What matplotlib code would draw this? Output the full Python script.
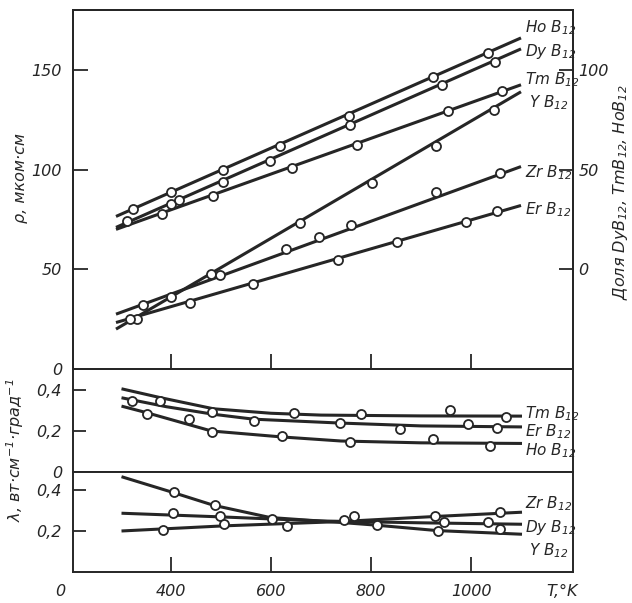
import numpy as np
import matplotlib
matplotlib.use('Agg')
import matplotlib.pyplot as plt

plt.rcParams['font.family'] = ['DejaVu Sans']
plt.rcParams['font.style'] = 'italic'
plt.rcParams['mathtext.default'] = 'it'

# удельное сопротивление, мком*см
T_rho_line = [290, 1100]
ho_rho_line = [76.5, 166]
dy_rho_line = [71, 160.5]
tm_rho_line = [70, 142.5]
y_rho_line = [20, 139]
zr_rho_line = [27.5, 101.5]
er_rho_line = [23.3, 82]

ho_rho_T = [324, 400, 504, 618, 756, 924, 1034]
ho_rho = [80, 88.5, 100, 112, 127, 146.5, 158.5]
dy_rho_T = [312, 400, 416, 504, 598, 758, 942, 1048]
dy_rho = [74, 82.5, 84.5, 94, 104.5, 122.5, 142.5, 154]
tm_rho_T = [382, 484, 642, 772, 954, 1062]
tm_rho = [77.5, 86.5, 101, 112.5, 129.5, 139.5]
y_rho_T = [331, 400, 480, 658, 802, 930, 1046]
y_rho = [25, 36, 47.5, 73, 93.5, 112, 130]
zr_rho_T = [343, 498, 630, 696, 760, 930, 1058]
zr_rho = [32, 47, 60, 66, 72, 88.5, 98.5]
er_rho_T = [317, 437, 563, 734, 852, 990, 1052]
er_rho = [25.3, 33, 42.5, 54.5, 63.5, 73.5, 79]

# теплопроводность, TmB12 / ErB12 / HoB12
tm_lam_line_T = [301, 378, 485, 600, 700, 900, 1102]
tm_lam_line = [0.408, 0.365, 0.310, 0.288, 0.279, 0.275, 0.274]
er_lam_line_T = [301, 391, 485, 565, 738, 900, 1102]
er_lam_line = [0.364, 0.320, 0.283, 0.259, 0.240, 0.226, 0.221]
ho_lam_line_T = [301, 351, 481, 621, 740, 900, 1102]
ho_lam_line = [0.323, 0.291, 0.201, 0.172, 0.152, 0.143, 0.140]

tm_lam_T = [377, 481, 645, 779, 957, 1070]
tm_lam = [0.348, 0.294, 0.291, 0.283, 0.302, 0.272]
er_lam_T = [321, 435, 565, 738, 858, 993, 1052]
er_lam = [0.348, 0.259, 0.250, 0.242, 0.213, 0.233, 0.216]
ho_lam_T = [351, 481, 621, 758, 923, 1037]
ho_lam = [0.283, 0.197, 0.177, 0.145, 0.161, 0.128]

# теплопроводность, ZrB12 / DyB12 / YB12
yb_lam_line_T = [301, 401, 485, 598, 738, 808, 932, 1102]
yb_lam_line = [0.467, 0.392, 0.327, 0.267, 0.243, 0.230, 0.203, 0.185]
dyb_lam_line_T = [301, 500, 700, 900, 1102]
dyb_lam_line = [0.288, 0.270, 0.250, 0.241, 0.234]
zrb_lam_line_T = [301, 505, 738, 928, 1102]
zrb_lam_line = [0.201, 0.226, 0.247, 0.272, 0.293]

yb_lam_T = [405, 487, 601, 812, 933, 1057]
yb_lam = [0.392, 0.327, 0.262, 0.231, 0.201, 0.213]
dyb_lam_T = [403, 498, 746, 945, 1033]
dyb_lam = [0.288, 0.272, 0.255, 0.245, 0.245]
zrb_lam_T = [383, 505, 631, 765, 928, 1058]
zrb_lam = [0.206, 0.234, 0.226, 0.272, 0.275, 0.296]

ink = '#262626'

fig = plt.figure(figsize=(6.32, 6.03), dpi=100)
L, W = 73 / 632, 500 / 632
ax1 = fig.add_axes([L, 1 - 369 / 603, W, 359 / 603])
ax2 = fig.add_axes([L, 1 - 472 / 603, W, 103 / 603])
ax3 = fig.add_axes([L, 1 - 572 / 603, W, 100 / 603])


def draw(ax, tl, yl, tp, yp):
    ax.plot(tl, yl, color=ink, lw=2.2, solid_capstyle='butt', zorder=2)
    ax.plot(tp, yp, 'o', ms=6.5, mfc='white', mec=ink, mew=1.3, zorder=3)


def name(ax, x, y, s):
    ax.text(x, y, s, ha='left', va='center', fontsize=11, color=ink, clip_on=False)


draw(ax1, T_rho_line, ho_rho_line, ho_rho_T, ho_rho)
draw(ax1, T_rho_line, dy_rho_line, dy_rho_T, dy_rho)
draw(ax1, T_rho_line, tm_rho_line, tm_rho_T, tm_rho)
draw(ax1, T_rho_line, y_rho_line, y_rho_T, y_rho)
draw(ax1, T_rho_line, zr_rho_line, zr_rho_T, zr_rho)
draw(ax1, T_rho_line, er_rho_line, er_rho_T, er_rho)
name(ax1, 1108, 171, 'Ho B$_{12}$')
name(ax1, 1108, 159, 'Dy B$_{12}$')
name(ax1, 1108, 145, 'Tm B$_{12}$')
name(ax1, 1116, 133.5, 'Y B$_{12}$')
name(ax1, 1108, 98.5, 'Zr B$_{12}$')
name(ax1, 1108, 80, 'Er B$_{12}$')

draw(ax2, tm_lam_line_T, tm_lam_line, tm_lam_T, tm_lam)
draw(ax2, er_lam_line_T, er_lam_line, er_lam_T, er_lam)
draw(ax2, ho_lam_line_T, ho_lam_line, ho_lam_T, ho_lam)
name(ax2, 1108, 0.285, 'Tm B$_{12}$')
name(ax2, 1108, 0.196, 'Er B$_{12}$')
name(ax2, 1108, 0.104, 'Ho B$_{12}$')

draw(ax3, yb_lam_line_T, yb_lam_line, yb_lam_T, yb_lam)
draw(ax3, dyb_lam_line_T, dyb_lam_line, dyb_lam_T, dyb_lam)
draw(ax3, zrb_lam_line_T, zrb_lam_line, zrb_lam_T, zrb_lam)
name(ax3, 1108, 0.333, 'Zr B$_{12}$')
name(ax3, 1108, 0.216, 'Dy B$_{12}$')
name(ax3, 1116, 0.104, 'Y B$_{12}$')

for ax in (ax1, ax2, ax3):
    ax.set_xlim(204, 1204)
    for s in ax.spines.values():
        s.set_linewidth(1.4)
        s.set_color(ink)
    ax.tick_params(axis='both', direction='in', color=ink, width=1.3,
                   labelsize=11.5, labelcolor=ink)

ax1.set_ylim(0, 180)
ax1.set_yticks([0, 50, 100, 150])
ax1.set_yticklabels(['0', '50', '100', '150'])
ax1.set_xticks([400, 600, 800, 1000])
ax1.tick_params(axis='x', length=11, labelbottom=False)
ax1.tick_params(axis='y', length=11, pad=8)

axr = ax1.twinx()
axr.set_ylim(-50, 130)
axr.set_yticks([0, 50, 100])
axr.set_yticklabels(['0', '50', '100'])
axr.tick_params(axis='y', direction='in', length=10, width=1.3, pad=4,
                labelsize=11.5, color=ink, labelcolor=ink)
for s in axr.spines.values():
    s.set_linewidth(1.4)
    s.set_color(ink)

ax2.set_ylim(0, 0.505)
ax2.set_yticks([0, 0.2, 0.4])
ax2.set_yticklabels(['0', '0,2', '0,4'])
ax2.set_xticks([])
ax2.tick_params(axis='y', length=9, pad=8)

ax3.set_ylim(0, 0.49)
ax3.set_yticks([0.2, 0.4])
ax3.set_yticklabels(['0,2', '0,4'])
ax3.set_xticks([400, 600, 800, 1000])
ax3.set_xticklabels(['400', '600', '800', '1000'])
ax3.tick_params(axis='y', length=9, pad=8)
ax3.tick_params(axis='x', length=11, pad=9)

fig.text(60 / 632, 1 - 592 / 603, '0', ha='center', va='center', fontsize=11.5, color=ink)
fig.text(562 / 632, 1 - 592 / 603, 'T,°K', ha='center', va='center', fontsize=11.5, color=ink)
fig.text(21 / 632, 1 - 178 / 603, 'ρ, мком·см', rotation=90, ha='center', va='center',
         fontsize=11.5, color=ink)
fig.text(15 / 632, 1 - 450 / 603, 'λ, вт·см$^{-1}$·град$^{-1}$', rotation=90,
         ha='center', va='center', fontsize=11.5, color=ink)
fig.text(621 / 632, 1 - 192 / 603, 'Доля DyB$_{12}$, TmB$_{12}$, HoB$_{12}$', rotation=90,
         ha='center', va='center', fontsize=11.5, color=ink)

fig.savefig('out.png', dpi=100)
